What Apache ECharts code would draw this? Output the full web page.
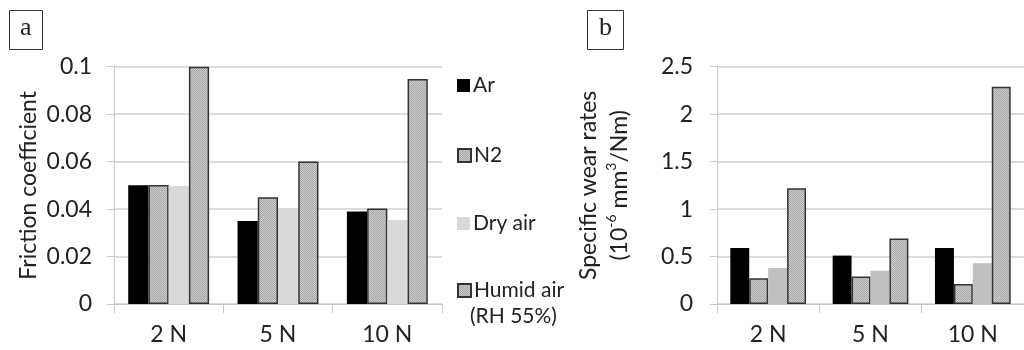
<!DOCTYPE html>
<html>
<head>
<meta charset="utf-8">
<script src="https://cdn.jsdelivr.net/npm/echarts@6/dist/echarts.min.js"></script>
<style>
html,body{margin:0;padding:0;background:#fff;}
#chart{width:1024px;height:350px;}
</style>
</head>
<body>
<div id="chart"></div>
<script>
var categories = ['2 N', '5 N', '10 N'];
var seriesNames = ['Ar', 'N2', 'Dry air', 'Humid air'];
// Panel a: friction coefficient
var frictionAr = [0.050, 0.035, 0.039];
var frictionN2 = [0.0502, 0.045, 0.0402];
var frictionDry = [0.0497, 0.040, 0.0354];
var frictionHumid = [0.100, 0.060, 0.0948];
// Panel b: specific wear rates (10^-6 mm3/Nm)
var wearAr = [0.59, 0.51, 0.59];
var wearN2 = [0.27, 0.29, 0.21];
var wearDry = [0.38, 0.35, 0.43];
var wearHumid = [1.22, 0.69, 2.29];
var ticksA = ['0', '0.02', '0.04', '0.06', '0.08', '0.1'];
var ticksB = ['0', '0.5', '1', '1.5', '2', '2.5'];

var FONT = 'Lato';

function makePattern() {
  var c = document.createElement('canvas');
  c.width = 4; c.height = 4;
  var ctx = c.getContext('2d');
  for (var y = 0; y < 4; y++) {
    for (var x = 0; x < 4; x++) {
      ctx.fillStyle = ((x + y) % 2 === 0) ? '#a6a6a6' : '#cdcdcd';
      ctx.fillRect(x, y, 1, 1);
    }
  }
  return c;
}
var pat = makePattern();
var patternFill = { image: pat, repeat: 'repeat' };

var chart = echarts.init(document.getElementById('chart'), null, { renderer: 'canvas' });

function xAxis(gridIndex) {
  return {
    type: 'category', gridIndex: gridIndex, data: categories,
    axisLine: { show: true, lineStyle: { color: '#c8c8c8', width: 1 } },
    axisTick: { show: true, length: 9, lineStyle: { color: '#c8c8c8' } },
    axisLabel: { fontFamily: FONT, fontSize: 23, color: '#222', margin: 19 },
    splitLine: { show: false }
  };
}
function yAxis(gridIndex, max, interval, ticks, margin, nameCfg) {
  var base = {
    type: 'value', gridIndex: gridIndex, min: 0, max: max, interval: interval,
    axisLine: { show: true, lineStyle: { color: '#c8c8c8', width: 1 } },
    axisTick: { show: true, length: 7, inside: false, lineStyle: { color: '#c8c8c8' } },
    axisLabel: {
      fontFamily: FONT, fontSize: 23, color: '#222', margin: margin,
      formatter: function (v) { return ticks[Math.round(v / interval)]; }
    },
    splitLine: { show: true, lineStyle: { color: '#d0d0d0', width: 1.5 } },
    nameLocation: 'middle', nameRotate: 90
  };
  for (var k in nameCfg) base[k] = nameCfg[k];
  return base;
}

function bar(name, data, idx, color, border) {
  return {
    name: name, type: 'bar', xAxisIndex: idx, yAxisIndex: idx, data: data,
    barGap: '0%', barCategoryGap: '26%',
    itemStyle: { color: color, borderColor: border ? '#333' : color, borderWidth: border ? 1.5 : 0 },
    emphasis: { disabled: true }
  };
}

function legendAt(name, top) {
  return {
    data: [name], left: 452, top: top, orient: 'vertical',
    icon: 'rect', itemWidth: 13, itemHeight: 13, itemGap: 5,
    textStyle: { fontFamily: FONT, fontSize: 21, color: '#222', padding: [0, 0, 0, -2] },
    selectedMode: false
  };
}

var option = {
  animation: false,
  backgroundColor: '#fff',
  title: [
    { text: 'a', left: 9, top: 10, padding: [5, 11, 9, 11], borderColor: '#333', borderWidth: 1,
      textStyle: { fontFamily: 'Liberation Serif', fontSize: 26, fontWeight: 'normal', color: '#222' } },
    { text: 'b', left: 587, top: 10, padding: [5, 12, 9, 12], borderColor: '#333', borderWidth: 1,
      textStyle: { fontFamily: 'Liberation Serif', fontSize: 26, fontWeight: 'normal', color: '#222' } },
    { text: '(RH 55%)', left: 470, top: 306, padding: 0,
      textStyle: { fontFamily: FONT, fontSize: 21, fontWeight: 'normal', color: '#222' } }
  ],
  legend: [legendAt('Ar', 70), legendAt('N2', 140), legendAt('Dry air', 208), legendAt('Humid air', 275)],
  grid: [
    { left: 114, top: 66.7, width: 328, height: 237.3 },
    { left: 717, top: 66.7, width: 316, height: 237.3 }
  ],
  xAxis: [xAxis(0), xAxis(1)],
  yAxis: [
    yAxis(0, 0.1, 0.02, ticksA, 22, {
      name: 'Friction coefficient', nameGap: 74,
      nameTextStyle: { fontFamily: FONT, fontSize: 23, color: '#222' }
    }),
    yAxis(1, 2.5, 0.5, ticksB, 24, {
      name: '{t|Specific wear rates}\n{t|(10}{s|-6}{t| mm}{s|3}{t|/Nm)}', nameGap: 82,
      nameTextStyle: {
        fontFamily: FONT, fontSize: 23, color: '#222', lineHeight: 31,
        rich: {
          t: { fontFamily: FONT, fontSize: 23, color: '#222', lineHeight: 31 },
          s: { fontFamily: FONT, fontSize: 14, color: '#222', verticalAlign: 'top', lineHeight: 24 }
        }
      }
    })
  ],
  series: [
    bar(seriesNames[0], frictionAr, 0, '#000', false),
    bar(seriesNames[1], frictionN2, 0, patternFill, true),
    bar(seriesNames[2], frictionDry, 0, '#d9d9d9', false),
    bar(seriesNames[3], frictionHumid, 0, patternFill, true),
    bar(seriesNames[0], wearAr, 1, '#000', false),
    bar(seriesNames[1], wearN2, 1, patternFill, true),
    bar(seriesNames[2], wearDry, 1, '#c0c0c0', false),
    bar(seriesNames[3], wearHumid, 1, patternFill, true)
  ]
};
chart.setOption(option);
</script>
</body>
</html>
